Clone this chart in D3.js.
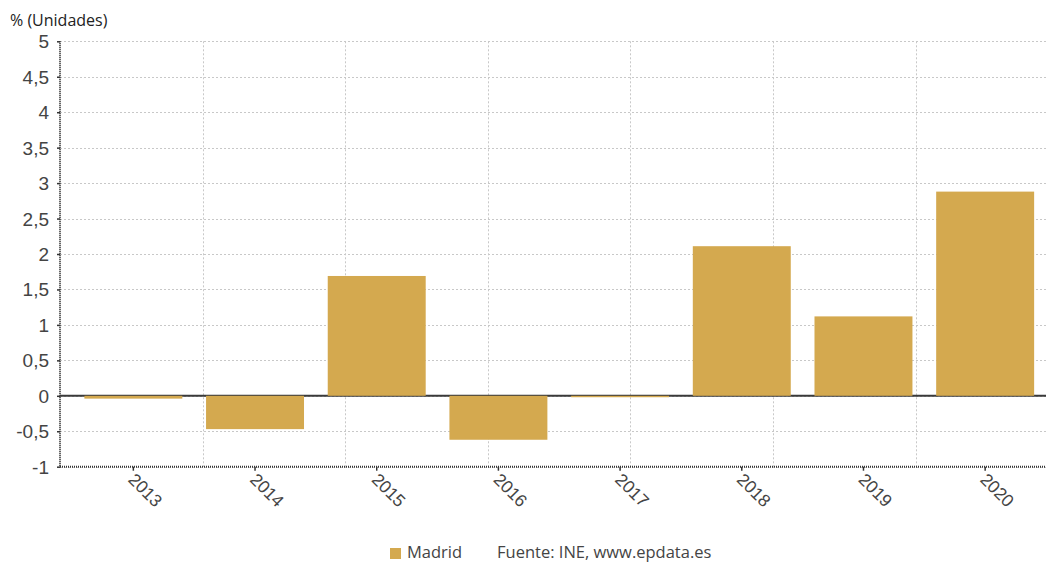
<!DOCTYPE html>
<html><head><meta charset="utf-8">
<script src="https://cdn.jsdelivr.net/npm/d3@7"></script>
<style>
body{margin:0;background:#fff;}
svg{display:block;font-family:"Open Sans","Noto Sans",sans-serif;}
</style></head>
<body><svg id="c" width="1046" height="563"></svg>
<script>
const years = ["2013","2014","2015","2016","2017","2018","2019","2020"];
const madrid = [-0.04, -0.47, 1.69, -0.62, -0.02, 2.11, 1.12, 2.88];
const yTicks = [-1,-0.5,0,0.5,1,1.5,2,2.5,3,3.5,4,4.5,5];
const vGrid = [0,1,2,3,4,5,6];
const seriesName = "Madrid";
const sourceText = "Fuente: INE, www.epdata.es";
const unitLabel = "% (Unidades)";

const svg = d3.select("#c");
const pLeft = 60, pRight = 1046, pTop = 41.3, pBottom = 466.7;
const color = "#d4a94f";
const fmt = d => String(d).replace(".", ",");

const x = d3.scaleBand().domain(years).range([72.5, 1046]).paddingInner(0.195).paddingOuter(0.0975);
const y = d3.scaleLinear().domain([-1, 5]).range([pBottom, pTop]);
const xg = d3.scaleLinear().domain([0, 1]).range([pLeft, pLeft + 142.6]);

// horizontal grid
svg.append("g").selectAll("line").data(yTicks).join("line")
  .attr("x1", pLeft).attr("x2", pRight)
  .attr("y1", d => Math.round(y(d)) + 0.5).attr("y2", d => Math.round(y(d)) + 0.5)
  .attr("stroke", "#c8c8c8").attr("stroke-width", 1).attr("stroke-dasharray", "2,2");
// vertical grid
svg.append("g").selectAll("line").data(vGrid.slice(1)).join("line")
  .attr("x1", d => Math.round(xg(d)) + 0.5).attr("x2", d => Math.round(xg(d)) + 0.5)
  .attr("y1", pTop).attr("y2", pBottom)
  .attr("stroke", "#c8c8c8").attr("stroke-width", 1).attr("stroke-dasharray", "2,2");

// zero line
svg.append("line").attr("x1", pLeft).attr("x2", pRight)
  .attr("y1", y(0)).attr("y2", y(0))
  .attr("stroke", "#3a3a3a").attr("stroke-width", 2);

// bars
svg.append("g").selectAll("rect").data(years.map((k, i) => ({k, v: madrid[i]}))).join("rect")
  .attr("x", d => x(d.k)).attr("width", x.bandwidth())
  .attr("y", d => y(Math.max(0, d.v)))
  .attr("height", d => Math.max(1, Math.abs(y(d.v) - y(0))))
  .attr("fill", color);

// y axis
const yAxis = svg.append("g").attr("transform", `translate(${pLeft},0)`)
  .call(d3.axisLeft(y).tickValues(yTicks).tickFormat(fmt).tickSize(3).tickPadding(8));
yAxis.select(".domain").attr("stroke", "#333").attr("stroke-width", 2).attr("stroke-dasharray", "1,1").attr("d", `M0,${pTop}V${pBottom}`);
yAxis.selectAll(".tick line").attr("stroke", "#333").attr("stroke-width", 1.5);
yAxis.selectAll("text").attr("fill", "#444").attr("font-size", 19).attr("dy", "0.34em");

// x axis
const xAxis = svg.append("g").attr("transform", `translate(0,${pBottom})`)
  .call(d3.axisBottom(x).tickSize(4).tickSizeOuter(0));
xAxis.select(".domain").attr("stroke", "#333").attr("stroke-width", 2).attr("stroke-dasharray", "1,1").attr("d", `M${pLeft},0H${pRight}`);
xAxis.selectAll(".tick line").attr("stroke", "#333").attr("stroke-width", 1.5);
xAxis.selectAll("text").attr("fill", "#444").attr("font-size", 17.5)
  .attr("text-anchor", "start").attr("dy", 0).attr("y", 0)
  .attr("transform", "translate(-6,14) rotate(45)");

// unit label
svg.append("text").attr("x", 10).attr("y", 26).attr("font-size", 16).attr("fill", "#222").text(unitLabel);

// legend
svg.append("rect").attr("x", 390).attr("y", 548).attr("width", 11).attr("height", 11).attr("fill", color);
svg.append("text").attr("x", 407).attr("y", 558).attr("font-size", 16.5).attr("fill", "#444").text(seriesName);
svg.append("text").attr("x", 497).attr("y", 558).attr("font-size", 16.5).attr("fill", "#444").text(sourceText);
</script></body></html>
